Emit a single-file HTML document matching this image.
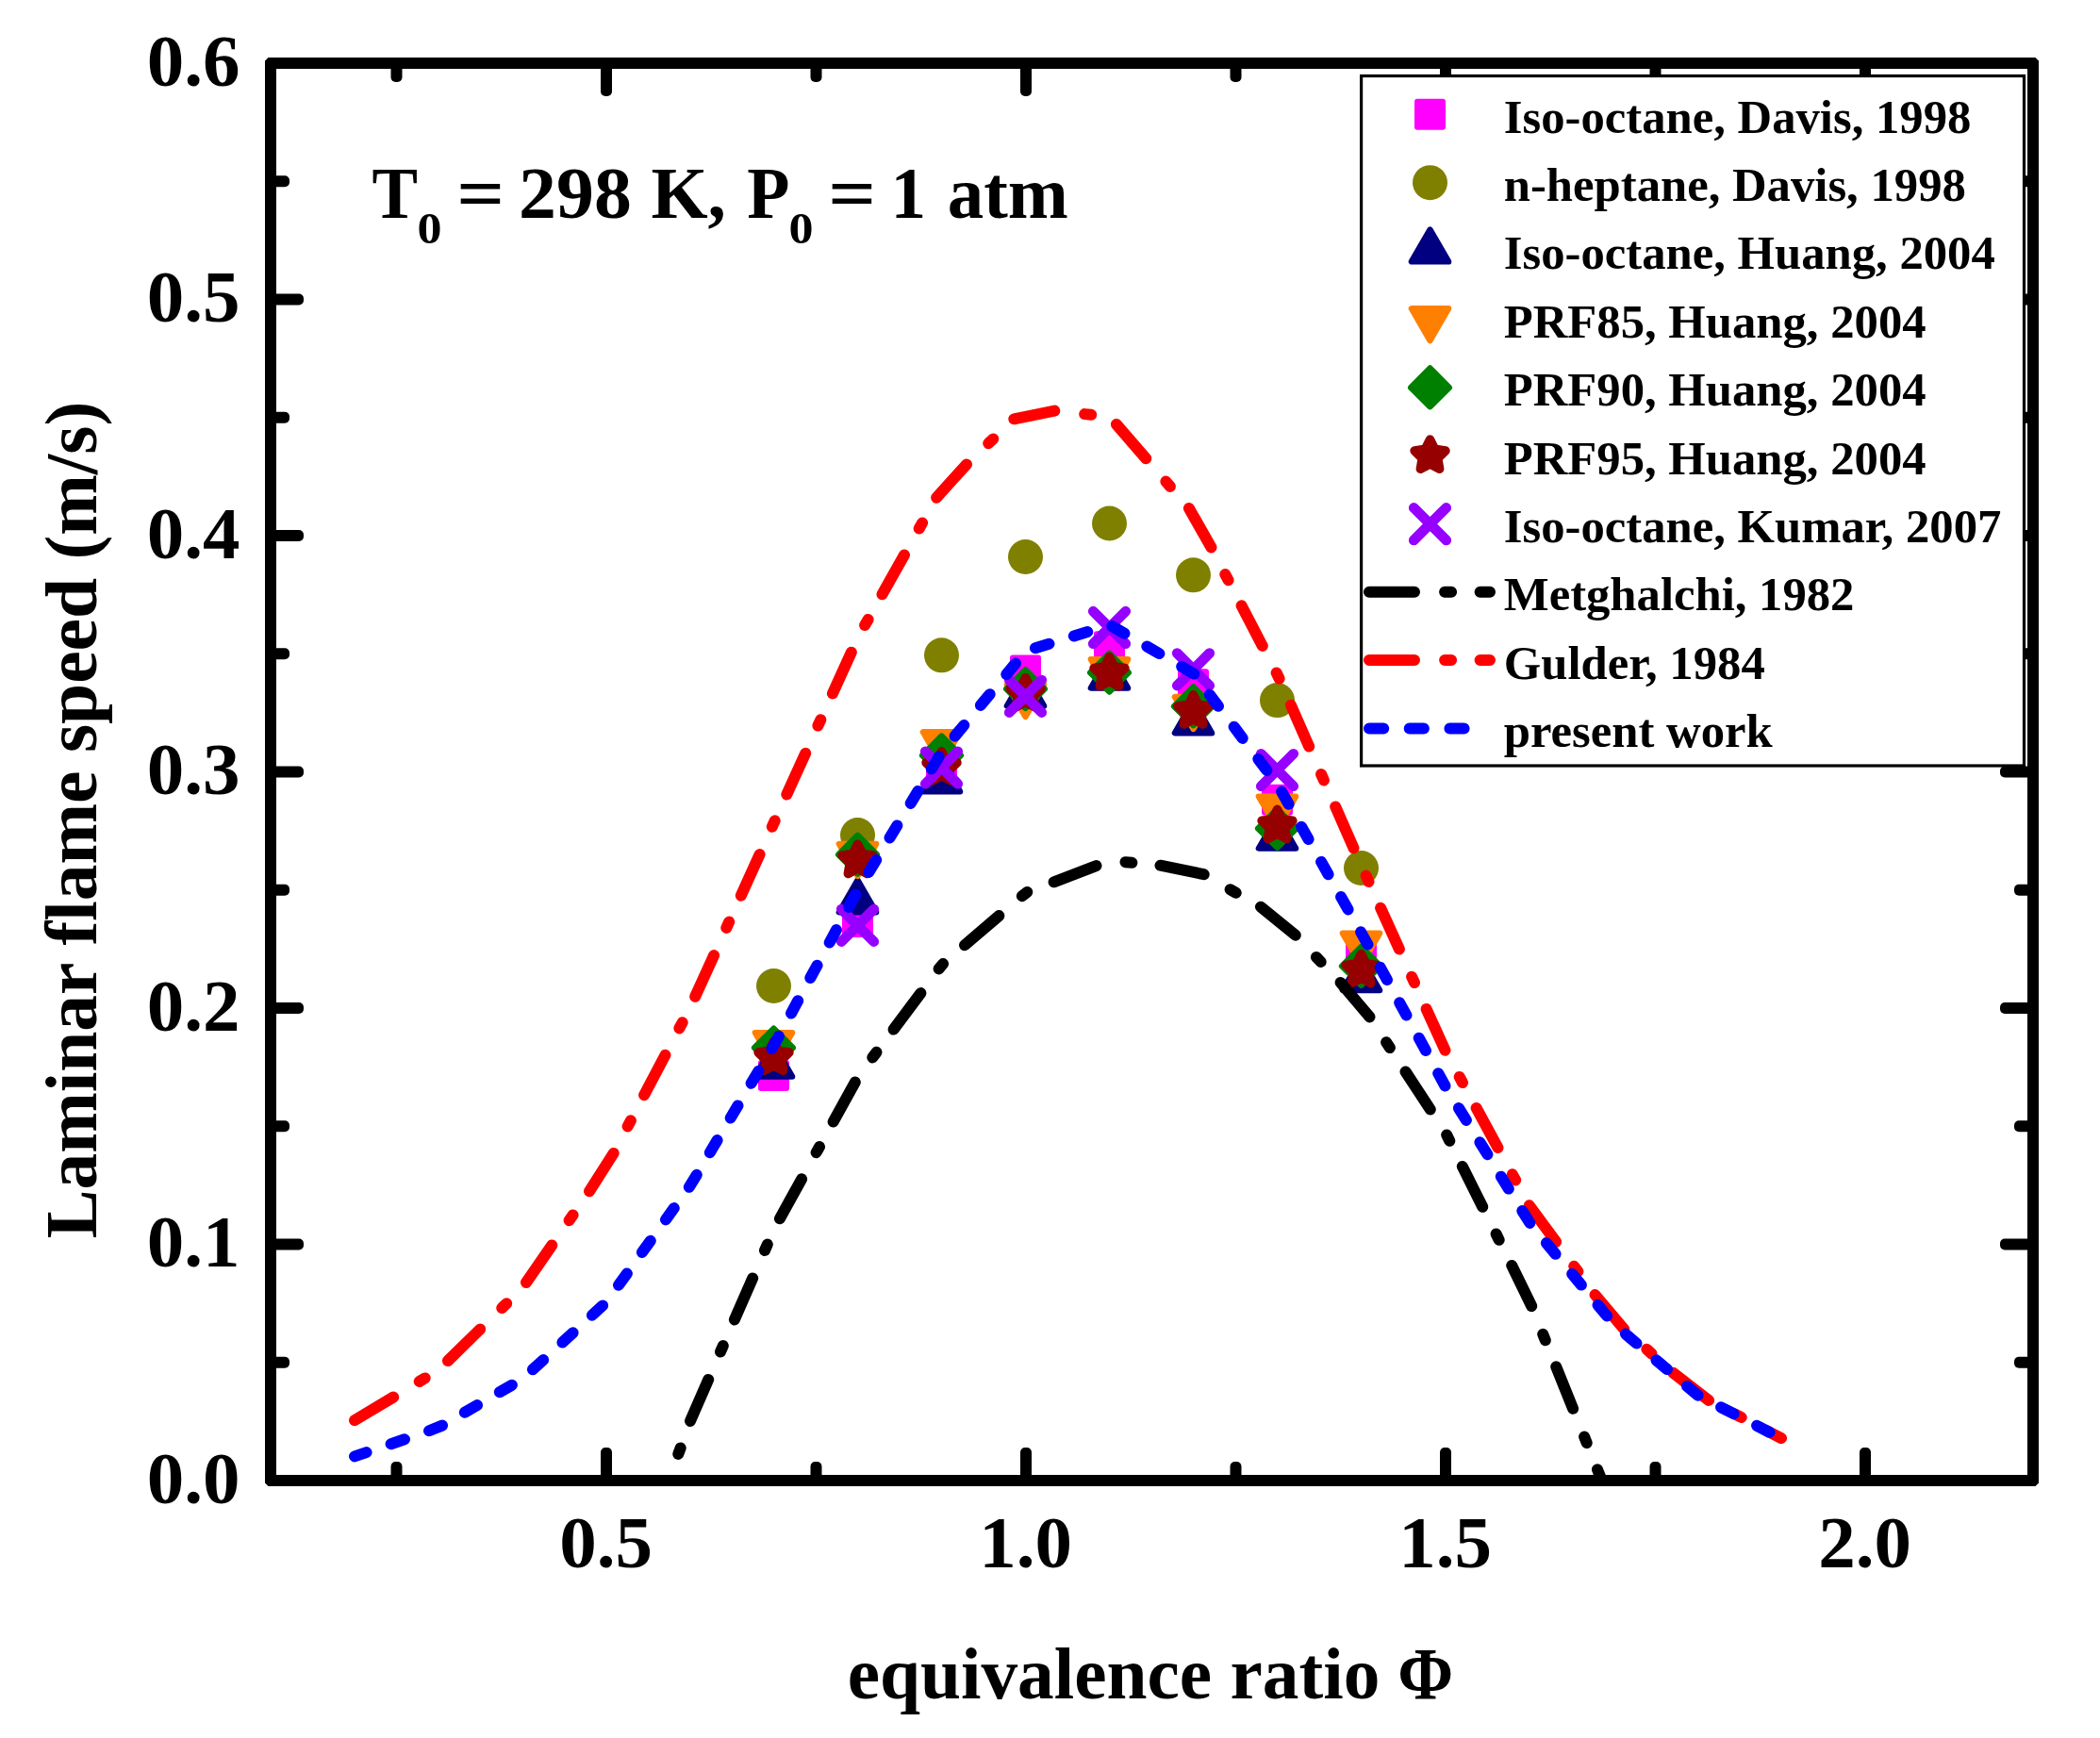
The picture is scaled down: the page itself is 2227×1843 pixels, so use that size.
<!DOCTYPE html><html><head><meta charset="utf-8"><title>Laminar flame speed</title><style>html,body{margin:0;padding:0;background:#fff}svg text{font-kerning:normal}</style></head><body><svg width="2227" height="1843" viewBox="0 0 2227 1843" style="display:block">
<rect width="2227" height="1843" fill="#fff"/>
<defs><clipPath id="pc"><rect x="287.0" y="67.0" width="1869.0" height="1503.0"/></clipPath></defs>
<g clip-path="url(#pc)">
<rect x="804.0" y="1123.9" width="33" height="33" rx="3" fill="#FF00FF"/>
<rect x="893.0" y="961.1" width="33" height="33" rx="3" fill="#FF00FF"/>
<rect x="982.0" y="799.5" width="33" height="33" rx="3" fill="#FF00FF"/>
<rect x="1071.0" y="694.5" width="33" height="33" rx="3" fill="#FF00FF"/>
<rect x="1160.0" y="669.2" width="33" height="33" rx="3" fill="#FF00FF"/>
<rect x="1249.0" y="709.3" width="33" height="33" rx="3" fill="#FF00FF"/>
<rect x="1338.0" y="831.8" width="33" height="33" rx="3" fill="#FF00FF"/>
<rect x="1427.0" y="987.9" width="33" height="33" rx="3" fill="#FF00FF"/>
<circle cx="820.5" cy="1045.5" r="18.5" fill="#808000"/>
<circle cx="909.5" cy="885.6" r="18.5" fill="#808000"/>
<circle cx="998.5" cy="694.8" r="18.5" fill="#808000"/>
<circle cx="1087.5" cy="590.5" r="18.5" fill="#808000"/>
<circle cx="1176.5" cy="555.0" r="18.5" fill="#808000"/>
<circle cx="1265.5" cy="609.8" r="18.5" fill="#808000"/>
<circle cx="1354.5" cy="742.6" r="18.5" fill="#808000"/>
<circle cx="1443.5" cy="920.5" r="18.5" fill="#808000"/>
<polygon points="820.5,1107.7 800.9,1141.6 840.1,1141.6" fill="#000080" stroke="#000080" stroke-width="6.4" stroke-linejoin="round"/>
<polygon points="909.5,933.4 889.9,967.3 929.1,967.3" fill="#000080" stroke="#000080" stroke-width="6.4" stroke-linejoin="round"/>
<polygon points="998.5,805.4 978.9,839.3 1018.1,839.3" fill="#000080" stroke="#000080" stroke-width="6.4" stroke-linejoin="round"/>
<polygon points="1087.5,714.7 1067.9,748.6 1107.1,748.6" fill="#000080" stroke="#000080" stroke-width="6.4" stroke-linejoin="round"/>
<polygon points="1176.5,695.6 1156.9,729.5 1196.1,729.5" fill="#000080" stroke="#000080" stroke-width="6.4" stroke-linejoin="round"/>
<polygon points="1265.5,743.4 1245.9,777.3 1285.1,777.3" fill="#000080" stroke="#000080" stroke-width="6.4" stroke-linejoin="round"/>
<polygon points="1354.5,865.6 1334.9,899.5 1374.1,899.5" fill="#000080" stroke="#000080" stroke-width="6.4" stroke-linejoin="round"/>
<polygon points="1443.5,1016.2 1423.9,1050.1 1463.1,1050.1" fill="#000080" stroke="#000080" stroke-width="6.4" stroke-linejoin="round"/>
<polygon points="820.5,1129.0 800.9,1095.1 840.1,1095.1" fill="#FF8000" stroke="#FF8000" stroke-width="6.4" stroke-linejoin="round"/>
<polygon points="909.5,928.8 889.9,894.9 929.1,894.9" fill="#FF8000" stroke="#FF8000" stroke-width="6.4" stroke-linejoin="round"/>
<polygon points="998.5,810.1 978.9,776.2 1018.1,776.2" fill="#FF8000" stroke="#FF8000" stroke-width="6.4" stroke-linejoin="round"/>
<polygon points="1087.5,759.9 1067.9,726.0 1107.1,726.0" fill="#FF8000" stroke="#FF8000" stroke-width="6.4" stroke-linejoin="round"/>
<polygon points="1176.5,733.0 1156.9,699.1 1196.1,699.1" fill="#FF8000" stroke="#FF8000" stroke-width="6.4" stroke-linejoin="round"/>
<polygon points="1265.5,772.9 1245.9,739.0 1285.1,739.0" fill="#FF8000" stroke="#FF8000" stroke-width="6.4" stroke-linejoin="round"/>
<polygon points="1354.5,878.5 1334.9,844.6 1374.1,844.6" fill="#FF8000" stroke="#FF8000" stroke-width="6.4" stroke-linejoin="round"/>
<polygon points="1443.5,1023.5 1423.9,989.6 1463.1,989.6" fill="#FF8000" stroke="#FF8000" stroke-width="6.4" stroke-linejoin="round"/>
<polygon points="820.5,1090.7 840.8,1111.1 820.5,1131.4 800.1,1111.1" fill="#008000" stroke="#008000" stroke-width="6.4" stroke-linejoin="round"/>
<polygon points="909.5,885.8 929.9,906.2 909.5,926.5 889.2,906.2" fill="#008000" stroke="#008000" stroke-width="6.4" stroke-linejoin="round"/>
<polygon points="998.5,780.6 1018.9,801.0 998.5,821.3 978.1,801.0" fill="#008000" stroke="#008000" stroke-width="6.4" stroke-linejoin="round"/>
<polygon points="1087.5,710.2 1107.8,730.6 1087.5,750.9 1067.2,730.6" fill="#008000" stroke="#008000" stroke-width="6.4" stroke-linejoin="round"/>
<polygon points="1176.5,692.9 1196.8,713.3 1176.5,733.6 1156.2,713.3" fill="#008000" stroke="#008000" stroke-width="6.4" stroke-linejoin="round"/>
<polygon points="1265.5,728.5 1285.8,748.9 1265.5,769.2 1245.1,748.9" fill="#008000" stroke="#008000" stroke-width="6.4" stroke-linejoin="round"/>
<polygon points="1354.5,858.0 1374.8,878.4 1354.5,898.7 1334.1,878.4" fill="#008000" stroke="#008000" stroke-width="6.4" stroke-linejoin="round"/>
<polygon points="1443.5,1004.1 1463.8,1024.4 1443.5,1044.8 1423.1,1024.4" fill="#008000" stroke="#008000" stroke-width="6.4" stroke-linejoin="round"/>
<polygon points="820.5,1104.2 825.6,1114.4 836.9,1116.0 828.7,1124.0 830.6,1135.3 820.5,1130.0 810.4,1135.3 812.3,1124.0 804.1,1116.0 815.4,1114.4" fill="#960000" stroke="#960000" stroke-width="9.6" stroke-linejoin="round"/>
<polygon points="909.5,895.2 914.6,905.5 925.9,907.1 917.7,915.1 919.6,926.4 909.5,921.0 899.4,926.4 901.3,915.1 893.1,907.1 904.4,905.5" fill="#960000" stroke="#960000" stroke-width="9.6" stroke-linejoin="round"/>
<polygon points="998.5,796.8 1003.6,807.0 1014.9,808.7 1006.7,816.6 1008.6,827.9 998.5,822.6 988.4,827.9 990.3,816.6 982.1,808.7 993.4,807.0" fill="#960000" stroke="#960000" stroke-width="9.6" stroke-linejoin="round"/>
<polygon points="1087.5,718.6 1092.6,728.9 1103.9,730.5 1095.7,738.5 1097.6,749.8 1087.5,744.4 1077.4,749.8 1079.3,738.5 1071.1,730.5 1082.4,728.9" fill="#960000" stroke="#960000" stroke-width="9.6" stroke-linejoin="round"/>
<polygon points="1176.5,696.6 1181.6,706.8 1192.9,708.5 1184.7,716.4 1186.6,727.7 1176.5,722.4 1166.4,727.7 1168.3,716.4 1160.1,708.5 1171.4,706.8" fill="#960000" stroke="#960000" stroke-width="9.6" stroke-linejoin="round"/>
<polygon points="1265.5,736.9 1270.6,747.2 1281.9,748.8 1273.7,756.8 1275.6,768.0 1265.5,762.7 1255.4,768.0 1257.3,756.8 1249.1,748.8 1260.4,747.2" fill="#960000" stroke="#960000" stroke-width="9.6" stroke-linejoin="round"/>
<polygon points="1354.5,858.4 1359.6,868.7 1370.9,870.3 1362.7,878.3 1364.6,889.5 1354.5,884.2 1344.4,889.5 1346.3,878.3 1338.1,870.3 1349.4,868.7" fill="#960000" stroke="#960000" stroke-width="9.6" stroke-linejoin="round"/>
<polygon points="1443.5,1011.5 1448.6,1021.7 1459.9,1023.4 1451.7,1031.3 1453.6,1042.6 1443.5,1037.3 1433.4,1042.6 1435.3,1031.3 1427.1,1023.4 1438.4,1021.7" fill="#960000" stroke="#960000" stroke-width="9.6" stroke-linejoin="round"/>
<path d="M892.3,964.1L926.7,998.5M892.3,998.5L926.7,964.1" stroke="#9600FF" stroke-width="10.8" stroke-linecap="round" fill="none"/>
<path d="M981.3,796.8L1015.7,831.2M981.3,831.2L1015.7,796.8" stroke="#9600FF" stroke-width="10.8" stroke-linecap="round" fill="none"/>
<path d="M1070.3,721.1L1104.7,755.5M1070.3,755.5L1104.7,721.1" stroke="#9600FF" stroke-width="10.8" stroke-linecap="round" fill="none"/>
<path d="M1159.3,648.2L1193.7,682.6M1159.3,682.6L1193.7,648.2" stroke="#9600FF" stroke-width="10.8" stroke-linecap="round" fill="none"/>
<path d="M1248.3,692.6L1282.7,727.0M1248.3,727.0L1282.7,692.6" stroke="#9600FF" stroke-width="10.8" stroke-linecap="round" fill="none"/>
<path d="M1337.3,799.3L1371.7,833.7M1337.3,833.7L1371.7,799.3" stroke="#9600FF" stroke-width="10.8" stroke-linecap="round" fill="none"/>
<path d="M652.2,1727.6L668.5,1682.5M679.4,1652.3L681.8,1645.7M692.1,1617.3L708.4,1572.1M719.3,1541.9L721.7,1535.4M732.0,1506.9L751.2,1462.9M764.0,1433.5L766.8,1427.1M778.9,1399.4L798.2,1355.4M811.0,1326.0L813.8,1319.6M826.9,1292.3L850.1,1250.3M865.6,1222.2L869.0,1216.1M883.6,1189.6L906.8,1147.6M925.3,1121.4L929.5,1115.8M947.6,1091.6L976.4,1053.1M995.6,1027.4L1000.1,1022.0M1023.0,1002.3L1059.4,971.1M1083.8,950.2L1089.3,946.0M1117.6,935.3L1162.5,918.1M1193.5,914.2L1200.4,914.8M1230.5,917.7L1276.7,927.2M1304.6,943.2L1310.7,946.7M1336.9,961.7L1373.8,991.7M1395.9,1014.9L1400.7,1020.0M1421.6,1041.9L1452.5,1078.4M1470.1,1105.2L1473.9,1111.1M1490.5,1136.4L1516.8,1176.5M1534.2,1203.5L1537.3,1209.8M1550.8,1236.9L1572.2,1279.8M1586.6,1308.5L1589.7,1314.8M1603.2,1341.9L1624.2,1385.0M1636.2,1414.8L1638.8,1421.3M1650.2,1449.3L1668.1,1493.8M1680.1,1523.6L1682.7,1530.1M1694.0,1558.2L1711.0,1600.2" fill="none" stroke="#000" stroke-width="12" stroke-linecap="round"/>
<path d="M376.0,1506.1L417.2,1481.5M444.7,1465.0L450.7,1461.4M474.9,1443.1L509.2,1409.5M532.2,1387.1L537.2,1382.2M558.0,1360.0L585.3,1320.5M603.6,1294.2L607.6,1288.4M625.0,1263.3L650.7,1222.9M665.6,1194.5L668.9,1188.3M683.1,1161.2L705.5,1118.8M720.4,1090.4L723.7,1084.2M737.2,1056.8L757.1,1013.1M770.3,983.9L773.2,977.5M785.8,949.7L805.6,906.0M818.8,876.7L821.7,870.3M834.3,842.5L854.2,798.8M867.4,769.6L870.3,763.2M882.9,735.4L902.8,691.7M917.1,663.0L920.6,656.9M935.5,630.3L959.0,588.5M974.7,560.5L978.1,554.4M993.1,527.7L1025.0,492.4M1048.2,470.2L1053.3,465.4M1075.3,444.3L1118.3,435.6M1150.2,439.1L1157.2,439.8M1183.9,450.0L1215.3,486.3M1236.4,510.6L1240.9,515.9M1260.9,539.0L1284.5,580.5M1299.3,609.0L1302.6,615.2M1316.6,642.3L1338.8,684.9M1353.6,713.4L1356.6,719.7M1368.9,747.7L1388.2,791.6M1401.1,821.0L1403.9,827.4M1416.2,855.4L1435.5,899.3M1448.6,928.6L1451.5,935.0M1464.1,962.8L1483.9,1006.5M1497.1,1035.8L1500.0,1042.1M1512.6,1069.9L1532.5,1113.7M1547.7,1141.9L1551.0,1148.1M1565.6,1174.9L1588.5,1217.1M1603.8,1245.3L1607.2,1251.4M1621.7,1278.3L1650.1,1316.9M1669.2,1342.8L1673.4,1348.4M1691.5,1373.0L1722.3,1409.5M1746.3,1430.8L1751.5,1435.5M1774.3,1455.7L1812.1,1484.9M1840.5,1499.8L1846.7,1503.0M1873.8,1517.2L1889.0,1525.1" fill="none" stroke="#FF0000" stroke-width="12" stroke-linecap="round"/>
<path d="M376.0,1544.4L388.6,1540.1M414.6,1531.2L429.0,1526.3M455.0,1517.3L469.0,1511.6M492.8,1497.8L506.0,1490.1M529.8,1476.3L542.9,1468.7M564.9,1452.3L576.1,1442.1M596.4,1423.5L607.6,1413.3M627.9,1394.7L639.1,1384.4M656.0,1362.8L664.9,1350.5M680.9,1328.1L689.8,1315.8M705.9,1293.4L714.8,1281.1M730.8,1258.8L738.8,1245.8M752.8,1222.2L760.6,1209.1M774.7,1185.5L782.5,1172.4M796.6,1148.8L804.4,1135.7M818.5,1112.1L825.9,1098.8M839.0,1074.6L846.2,1061.2M859.3,1037.0L866.6,1023.7M879.7,999.5L886.9,986.1M900.0,961.9L907.3,948.5M921.3,924.9L929.2,911.9M943.5,888.4L951.4,875.4M965.7,851.9L973.5,838.9M987.8,815.3L995.7,802.4M1012.6,780.7L1022.3,769.0M1039.9,747.9L1049.7,736.2M1067.3,715.1L1077.0,703.4M1097.9,687.2L1112.5,682.7M1138.8,674.5L1153.3,670.0M1179.3,664.0L1192.5,671.7M1216.3,685.5L1229.4,693.1M1253.2,706.9L1266.3,714.6M1282.8,736.6L1292.0,748.8M1308.6,770.7L1317.7,782.9M1334.3,804.8L1343.4,817.0M1359.1,839.5L1366.6,852.8M1380.1,876.7L1387.6,890.0M1401.1,913.9L1408.6,927.2M1422.1,951.1L1429.6,964.4M1443.1,988.3L1450.5,1001.6M1463.7,1025.8L1471.0,1039.1M1484.2,1063.3L1491.5,1076.6M1504.7,1100.7L1512.0,1114.1M1525.2,1138.2L1532.5,1151.5M1546.9,1175.0L1554.9,1187.9M1569.4,1211.3L1577.4,1224.2M1591.8,1247.7L1599.8,1260.6M1614.3,1284.0L1622.4,1296.9M1639.9,1318.1L1649.6,1329.8M1667.2,1350.9L1676.9,1362.6M1694.5,1383.8L1704.2,1395.5M1723.9,1414.6L1735.5,1424.5M1756.4,1442.3L1768.0,1452.1M1789.0,1469.9L1800.6,1479.7M1825.1,1492.3L1838.6,1499.2M1863.1,1511.8L1876.6,1518.8" fill="none" stroke="#0000FF" stroke-width="12" stroke-linecap="round"/>
</g>
<g fill="#000"><rect x="637.0" y="1535.0" width="12" height="35.0" rx="5"/><rect x="637.0" y="67.0" width="12" height="35.0" rx="5"/><rect x="1082.0" y="1535.0" width="12" height="35.0" rx="5"/><rect x="1082.0" y="67.0" width="12" height="35.0" rx="5"/><rect x="1527.0" y="1535.0" width="12" height="35.0" rx="5"/><rect x="1527.0" y="67.0" width="12" height="35.0" rx="5"/><rect x="1972.0" y="1535.0" width="12" height="35.0" rx="5"/><rect x="1972.0" y="67.0" width="12" height="35.0" rx="5"/><rect x="414.5" y="1550.0" width="12" height="20.0" rx="5"/><rect x="414.5" y="67.0" width="12" height="20.0" rx="5"/><rect x="859.5" y="1550.0" width="12" height="20.0" rx="5"/><rect x="859.5" y="67.0" width="12" height="20.0" rx="5"/><rect x="1304.5" y="1550.0" width="12" height="20.0" rx="5"/><rect x="1304.5" y="67.0" width="12" height="20.0" rx="5"/><rect x="1749.5" y="1550.0" width="12" height="20.0" rx="5"/><rect x="1749.5" y="67.0" width="12" height="20.0" rx="5"/><rect x="287.0" y="1438.8" width="20.0" height="12" rx="5"/><rect x="2136.0" y="1438.8" width="20.0" height="12" rx="5"/><rect x="287.0" y="1313.5" width="35.0" height="12" rx="5"/><rect x="2121.0" y="1313.5" width="35.0" height="12" rx="5"/><rect x="287.0" y="1188.2" width="20.0" height="12" rx="5"/><rect x="2136.0" y="1188.2" width="20.0" height="12" rx="5"/><rect x="287.0" y="1063.0" width="35.0" height="12" rx="5"/><rect x="2121.0" y="1063.0" width="35.0" height="12" rx="5"/><rect x="287.0" y="937.8" width="20.0" height="12" rx="5"/><rect x="2136.0" y="937.8" width="20.0" height="12" rx="5"/><rect x="287.0" y="812.5" width="35.0" height="12" rx="5"/><rect x="2121.0" y="812.5" width="35.0" height="12" rx="5"/><rect x="287.0" y="687.2" width="20.0" height="12" rx="5"/><rect x="2136.0" y="687.2" width="20.0" height="12" rx="5"/><rect x="287.0" y="562.0" width="35.0" height="12" rx="5"/><rect x="2121.0" y="562.0" width="35.0" height="12" rx="5"/><rect x="287.0" y="436.8" width="20.0" height="12" rx="5"/><rect x="2136.0" y="436.8" width="20.0" height="12" rx="5"/><rect x="287.0" y="311.5" width="35.0" height="12" rx="5"/><rect x="2121.0" y="311.5" width="35.0" height="12" rx="5"/><rect x="287.0" y="186.2" width="20.0" height="12" rx="5"/><rect x="2136.0" y="186.2" width="20.0" height="12" rx="5"/></g>
<rect x="1443.6" y="80.5" width="702.9000000000001" height="731.5" fill="#fff" stroke="#000" stroke-width="3.2"/>
<path fill-rule="evenodd" fill="#000" d="M284.5,61.0H2158.5L2162.0,64.5V1572.5L2158.5,1576.0H284.5L281.0,1572.5V64.5Z M293.0,73.0V1564.0H2150.0V73.0Z"/>
<rect x="1500.0" y="104.8" width="33" height="33" rx="3" fill="#FF00FF"/>
<circle cx="1516.5" cy="193.7" r="18.5" fill="#808000"/>
<polygon points="1516.5,243.5 1496.9,277.4 1536.1,277.4" fill="#000080" stroke="#000080" stroke-width="6.4" stroke-linejoin="round"/>
<polygon points="1516.5,361.1 1496.9,327.2 1536.1,327.2" fill="#FF8000" stroke="#FF8000" stroke-width="6.4" stroke-linejoin="round"/>
<polygon points="1516.5,390.5 1536.8,410.9 1516.5,431.2 1496.2,410.9" fill="#008000" stroke="#008000" stroke-width="6.4" stroke-linejoin="round"/>
<polygon points="1516.5,466.1 1521.6,476.3 1532.9,478.0 1524.7,486.0 1526.6,497.2 1516.5,491.9 1506.4,497.2 1508.3,486.0 1500.1,478.0 1511.4,476.3" fill="#960000" stroke="#960000" stroke-width="9.6" stroke-linejoin="round"/>
<path d="M1499.3,538.5L1533.7,572.9M1499.3,572.9L1533.7,538.5" stroke="#9600FF" stroke-width="10.8" stroke-linecap="round" fill="none"/>
<path d="M1452,627.7H1580" stroke="#000" stroke-width="12" stroke-linecap="round" stroke-dasharray="48 32.1 7 30.5" fill="none"/>
<path d="M1452,700.1H1580" stroke="#FF0000" stroke-width="12" stroke-linecap="round" stroke-dasharray="48 32.1 7 30.5" fill="none"/>
<path d="M1452,772.5H1580" stroke="#0000FF" stroke-width="12" stroke-linecap="round" stroke-dasharray="15.2 27.5" fill="none"/>
<text transform="translate(1594.8,140.5)" font-family='"Liberation Serif", serif' font-weight="700" font-size="50.7" fill="#000" class="lg">Iso-octane, Davis, 1998</text>
<text transform="translate(1594.8,212.9)" font-family='"Liberation Serif", serif' font-weight="700" font-size="50.7" fill="#000" class="lg">n-heptane, Davis, 1998</text>
<text transform="translate(1594.8,285.3)" font-family='"Liberation Serif", serif' font-weight="700" font-size="50.7" fill="#000" class="lg">Iso-octane, Huang, 2004</text>
<text transform="translate(1594.8,357.7)" font-family='"Liberation Serif", serif' font-weight="700" font-size="50.7" fill="#000" class="lg">PRF85, Huang, 2004</text>
<text transform="translate(1594.8,430.1)" font-family='"Liberation Serif", serif' font-weight="700" font-size="50.7" fill="#000" class="lg">PRF90, Huang, 2004</text>
<text transform="translate(1594.8,502.5)" font-family='"Liberation Serif", serif' font-weight="700" font-size="50.7" fill="#000" class="lg">PRF95, Huang, 2004</text>
<text transform="translate(1594.8,574.9)" font-family='"Liberation Serif", serif' font-weight="700" font-size="50.7" fill="#000" class="lg">Iso-octane, Kumar, 2007</text>
<text transform="translate(1594.8,647.3)" font-family='"Liberation Serif", serif' font-weight="700" font-size="50.7" fill="#000" class="lg">Metghalchi, 1982</text>
<text transform="translate(1594.8,719.7)" font-family='"Liberation Serif", serif' font-weight="700" font-size="50.7" fill="#000" class="lg">Gulder, 1984</text>
<text transform="translate(1594.8,792.1)" font-family='"Liberation Serif", serif' font-weight="700" font-size="50.7" fill="#000" class="lg">present work</text>
<text transform="translate(254.4,1593.7)" text-anchor="end" font-family='"Liberation Serif", serif' font-weight="700" font-size="79" fill="#000" class="yt">0.0</text>
<text transform="translate(254.4,1343.2)" text-anchor="end" font-family='"Liberation Serif", serif' font-weight="700" font-size="79" fill="#000" class="yt">0.1</text>
<text transform="translate(254.4,1092.7)" text-anchor="end" font-family='"Liberation Serif", serif' font-weight="700" font-size="79" fill="#000" class="yt">0.2</text>
<text transform="translate(254.4,842.2)" text-anchor="end" font-family='"Liberation Serif", serif' font-weight="700" font-size="79" fill="#000" class="yt">0.3</text>
<text transform="translate(254.4,591.7)" text-anchor="end" font-family='"Liberation Serif", serif' font-weight="700" font-size="79" fill="#000" class="yt">0.4</text>
<text transform="translate(254.4,341.2)" text-anchor="end" font-family='"Liberation Serif", serif' font-weight="700" font-size="79" fill="#000" class="yt">0.5</text>
<text transform="translate(254.4,90.7)" text-anchor="end" font-family='"Liberation Serif", serif' font-weight="700" font-size="79" fill="#000" class="yt">0.6</text>
<text transform="translate(642.7,1662.1)" text-anchor="middle" font-family='"Liberation Serif", serif' font-weight="700" font-size="79" fill="#000" class="xt">0.5</text>
<text transform="translate(1087.7,1662.1)" text-anchor="middle" font-family='"Liberation Serif", serif' font-weight="700" font-size="79" fill="#000" class="xt">1.0</text>
<text transform="translate(1532.7,1662.1)" text-anchor="middle" font-family='"Liberation Serif", serif' font-weight="700" font-size="79" fill="#000" class="xt">1.5</text>
<text transform="translate(1977.7,1662.1)" text-anchor="middle" font-family='"Liberation Serif", serif' font-weight="700" font-size="79" fill="#000" class="xt">2.0</text>
<text transform="translate(898.7,1801.3)" font-family='"Liberation Serif", serif' font-weight="700" font-size="77.3" fill="#000" id="xtitle">equivalence ratio</text>
<text transform="translate(1482.2,1801.3) scale(0.9200,1)" font-family='"Liberation Serif", serif' font-weight="700" font-size="77.3" fill="#000">Φ</text>
<text transform="translate(101.8,869.5) rotate(-90)" text-anchor="middle" font-family='"Liberation Serif", serif' font-weight="700" font-size="77.5" id="ytitle">Laminar flame speed (m/s)</text>
<text transform="translate(394.6,231.0) scale(0.9398,1)" font-family='"Liberation Serif", serif' font-weight="700" font-size="77.4" fill="#000" class="ann">T</text>
<text transform="translate(442.4,258.4) scale(1.1246,1)" font-family='"Liberation Serif", serif' font-weight="700" font-size="46.3" fill="#000" class="ann">0</text>
<text transform="translate(484.3,231.0) scale(1.1530,1)" font-family='"Liberation Serif", serif' font-weight="700" font-size="77.4" fill="#000" class="ann">=</text>
<text transform="translate(550.1,231.0) scale(1.0310,1)" font-family='"Liberation Serif", serif' font-weight="700" font-size="77.4" fill="#000" class="ann">298</text>
<text transform="translate(690.4,231.0)" font-family='"Liberation Serif", serif' font-weight="700" font-size="77.4" fill="#000" class="ann">K,</text>
<text transform="translate(792.3,231.0) scale(0.9568,1)" font-family='"Liberation Serif", serif' font-weight="700" font-size="77.4" fill="#000" class="ann">P</text>
<text transform="translate(836.6,258.4) scale(1.1246,1)" font-family='"Liberation Serif", serif' font-weight="700" font-size="46.3" fill="#000" class="ann">0</text>
<text transform="translate(878.2,231.0) scale(1.1530,1)" font-family='"Liberation Serif", serif' font-weight="700" font-size="77.4" fill="#000" class="ann">=</text>
<text transform="translate(944.4,231.0) scale(0.9714,1)" font-family='"Liberation Serif", serif' font-weight="700" font-size="77.4" fill="#000" class="ann">1</text>
<text transform="translate(1004.7,231.0) scale(0.9939,1)" font-family='"Liberation Serif", serif' font-weight="700" font-size="77.4" fill="#000" class="ann">atm</text>
</svg></body></html>
